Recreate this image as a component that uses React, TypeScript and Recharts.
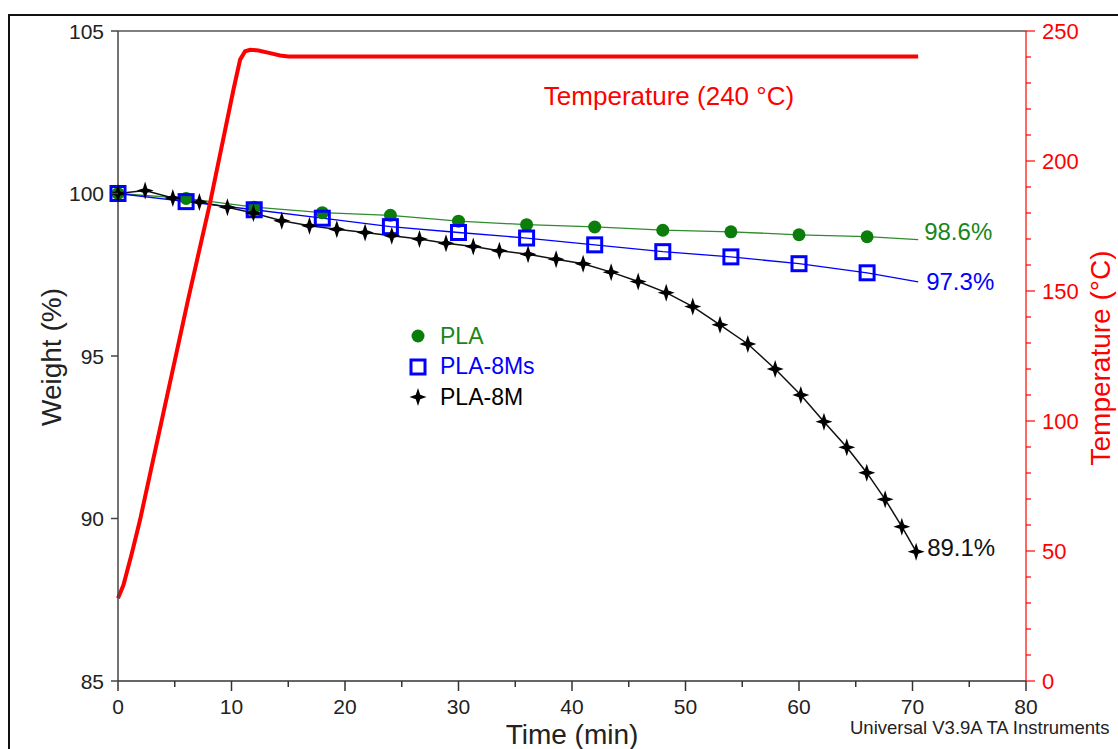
import React from "react";
import { ComposedChart, Line, XAxis, YAxis, Legend, ReferenceLine } from "recharts";

const FONT = "'Liberation Sans', Arial, sans-serif";

// ticks
const TIME_TICKS = [0, 5, 10, 15, 20, 25, 30, 35, 40, 45, 50, 55, 60, 65, 70, 75, 80];
const WEIGHT_TICKS = [85, 90, 95, 100, 105];
const TEMP_TICKS = [
  0, 10, 20, 30, 40, 50, 60, 70, 80, 90, 100, 110, 120, 130, 140, 150, 160, 170, 180, 190,
  200, 210, 220, 230, 240, 250,
];

const SERIES_NAMES = ["PLA", "PLA-8Ms", "PLA-8M"];

// PLA
const plaTime = [0, 6, 12, 18, 24, 30, 36, 42, 48, 54, 60, 66, 70.5];
const plaWeight = [100, 99.85, 99.58, 99.41, 99.33, 99.15, 99.04, 98.97, 98.87, 98.82, 98.73, 98.67, 98.58];

// PLA-8Ms
const pla8MsTime = [0, 6, 12, 18, 24, 30, 36, 42, 48, 54, 60, 66, 70.5];
const pla8MsWeight = [100, 99.75, 99.5, 99.24, 98.98, 98.8, 98.63, 98.42, 98.21, 98.05, 97.84, 97.56, 97.28];

// PLA-8M
const pla8MTime = [
  0, 2.39, 4.83, 7.17, 9.64, 11.93, 14.43, 16.87, 19.28, 21.77, 24.12, 26.56, 28.9, 31.3, 33.6,
  36.13, 38.6, 40.98, 43.45, 45.83, 48.3, 50.64, 53.04, 55.49, 57.9, 60.16, 62.2, 64.21, 65.97,
  67.59, 69.06, 70.32,
];
const pla8MWeight = [
  100, 100.09, 99.86, 99.74, 99.58, 99.4, 99.16, 99.01, 98.9, 98.8, 98.7, 98.6, 98.47, 98.37,
  98.24, 98.13, 97.98, 97.84, 97.58, 97.29, 96.95, 96.52, 95.96, 95.37, 94.6, 93.8, 92.98, 92.19,
  91.41, 90.59, 89.75, 88.98,
];

// temperature
const tempTime = [0, 0.48, 1.22, 1.94, 6.17, 8.11, 10.17, 10.76, 11.2, 11.64, 12.37, 13.4, 14.28, 15, 70.5];
const tempValue = [31.8, 36.9, 49.1, 61.9, 146.6, 183.9, 227.4, 239, 242.2, 242.8, 242.5, 241.5, 240.6, 240.2, 240.2];

const rows = (t: number[], v: number[]) => t.map((x, i) => ({ t: x, v: v[i] }));

const plaData = rows(plaTime, plaWeight);
const pla8MsData = rows(pla8MsTime, pla8MsWeight);
const pla8MData = rows(pla8MTime, pla8MWeight);
const tempData = rows(tempTime, tempValue);

const GREEN = "#0a7d0a";
const BLUE = "#0000ff";
const RED = "#ff0000";
const TEXT_COLORS: Record<string, string> = { PLA: "#1a861a", "PLA-8Ms": BLUE, "PLA-8M": "#000" };

const Circle = ({ cx, cy }: any) => <circle cx={cx} cy={cy} r={6.5} fill={GREEN} />;
const Square = ({ cx, cy }: any) => (
  <rect x={cx - 7} y={cy - 7} width={14} height={14} fill="none" stroke={BLUE} strokeWidth={3} />
);
const Star = ({ cx, cy }: any) => (
  <path
    d={`M${cx},${cy - 9} L${cx + 2.2},${cy - 2.2} L${cx + 8.5},${cy} L${cx + 2.2},${cy + 2.2} L${cx},${cy + 9} L${cx - 2.2},${cy + 2.2} L${cx - 8.5},${cy} L${cx - 2.2},${cy - 2.2} Z`}
    fill="#000"
  />
);

const TimeTick = ({ x, y, payload }: any) => {
  const major = payload.value % 10 === 0;
  return (
    <g>
      <line x1={x} y1={y} x2={x} y2={y + (major ? 10 : 6)} stroke="#333" strokeWidth={1.5} />
      {major && (
        <text x={x} y={y + 33} textAnchor="middle" fontSize={21} fontFamily={FONT} fill="#222">
          {payload.value}
        </text>
      )}
    </g>
  );
};

const WeightTick = ({ x, y, payload }: any) => (
  <g>
    <line x1={x - 7} y1={y} x2={x} y2={y} stroke="#444" strokeWidth={1.5} />
    <text x={x - 14} y={y + 7.5} textAnchor="end" fontSize={21} fontFamily={FONT} fill="#222">
      {payload.value}
    </text>
  </g>
);

const TempTick = ({ x, y, payload }: any) => {
  const major = payload.value % 50 === 0;
  return (
    <g>
      <line x1={x} y1={y} x2={x + (major ? 9 : 5)} y2={y} stroke={RED} strokeWidth={1.2} />
      {major && (
        <text x={x + 16} y={y + 8} textAnchor="start" fontSize={22} fontFamily={FONT} fill={RED}>
          {payload.value}
        </text>
      )}
    </g>
  );
};

const endLabel = (text: string, color: string, total: number, dx: number, dy: number) => (p: any) => {
  if (p.index !== total - 1) return null;
  return (
    <text x={p.x + dx} y={p.y + dy} fontSize={24} fontFamily={FONT} fill={color} dominantBaseline="central">
      {text}
    </text>
  );
};

const markerFor = (name: string) => {
  if (name === "PLA") return <Circle cx={10} cy={10} />;
  if (name === "PLA-8Ms") return <Square cx={10} cy={10} />;
  return <Star cx={10} cy={10} />;
};

const renderLegend = () => (
  <div style={{ fontFamily: FONT, fontSize: 23 }}>
    {SERIES_NAMES.map((name) => (
      <div key={name} style={{ display: "flex", alignItems: "center", height: 30.5 }}>
        <svg width={20} height={20} style={{ marginRight: 12 }}>
          {markerFor(name)}
        </svg>
        <span style={{ color: TEXT_COLORS[name] }}>{name}</span>
      </div>
    ))}
  </div>
);

export default function App() {
  return (
    <div style={{ position: "fixed", left: 0, top: 0, width: 1118, height: 749, overflow: "hidden", background: "#fff" }}>
      <div style={{ position: "absolute", left: 8, top: 14, width: 1200, height: 800, border: "2px solid #111" }} />
      <div style={{ position: "absolute", left: 0, top: 0 }}>
        <ComposedChart width={1118} height={749} margin={{ top: 31, right: 12, bottom: 28, left: 18 }}>
          <XAxis
            dataKey="t"
            type="number"
            domain={[0, 80]}
            ticks={TIME_TICKS}
            interval={0}
            height={40}
            tickSize={0}
            tickMargin={0}
            stroke="#333"
            strokeWidth={1.5}
            tick={<TimeTick />}
          />
          <YAxis
            yAxisId="w"
            type="number"
            domain={[85, 105]}
            ticks={WEIGHT_TICKS}
            interval={0}
            width={100}
            tickSize={0}
            tickMargin={0}
            stroke="#444"
            strokeWidth={1.5}
            tick={<WeightTick />}
          />
          <YAxis
            yAxisId="T"
            orientation="right"
            type="number"
            domain={[0, 250]}
            ticks={TEMP_TICKS}
            interval={0}
            width={80}
            tickSize={0}
            tickMargin={0}
            stroke={RED}
            strokeWidth={1.2}
            tick={<TempTick />}
          />
          <ReferenceLine yAxisId="w" y={105} stroke="#555" strokeWidth={1.5} />
          <Legend
            layout="vertical"
            align="center"
            verticalAlign="middle"
            content={renderLegend}
            wrapperStyle={{ position: "absolute", left: 408, top: 321, width: 200, height: 95 }}
          />
          <Line
            yAxisId="w"
            name="PLA"
            data={plaData}
            dataKey="v"
            stroke="#2e8b2e"
            strokeWidth={1.3}
            isAnimationActive={false}
            dot={(p: any) =>
              p.index < plaData.length - 1 ? <Circle key={p.index} cx={p.cx} cy={p.cy} /> : <g key={p.index} />
            }
            label={endLabel("98.6%", "#1a861a", plaData.length, 6, -8)}
          />
          <Line
            yAxisId="w"
            name="PLA-8Ms"
            data={pla8MsData}
            dataKey="v"
            stroke={BLUE}
            strokeWidth={1.3}
            isAnimationActive={false}
            dot={(p: any) =>
              p.index < pla8MsData.length - 1 ? <Square key={p.index} cx={p.cx} cy={p.cy} /> : <g key={p.index} />
            }
            label={endLabel("97.3%", BLUE, pla8MsData.length, 8, 0)}
          />
          <Line
            yAxisId="w"
            name="PLA-8M"
            data={pla8MData}
            dataKey="v"
            stroke="#111"
            strokeWidth={1.5}
            isAnimationActive={false}
            dot={(p: any) => <Star key={p.index} cx={p.cx} cy={p.cy} />}
            label={endLabel("89.1%", "#111", pla8MData.length, 11, -4)}
          />
          <Line
            yAxisId="T"
            name="Temperature"
            legendType="none"
            data={tempData}
            dataKey="v"
            stroke={RED}
            strokeWidth={4}
            dot={false}
            isAnimationActive={false}
          />
        </ComposedChart>
      </div>
      <svg
        width={1118}
        height={749}
        style={{ position: "absolute", left: 0, top: 0, pointerEvents: "none" }}
        fontFamily={FONT}
      >
        <text x={669} y={105} textAnchor="middle" fontSize={26} fill={RED}>
          Temperature (240 °C)
        </text>
        <text x={61} y={357} textAnchor="middle" fontSize={28} fill="#222" transform="rotate(-90 61 357)">
          Weight (%)
        </text>
        <text x={1110} y={358} textAnchor="middle" fontSize={28} fill={RED} transform="rotate(-90 1110 358)">
          Temperature (°C)
        </text>
        <text x={572} y={744} textAnchor="middle" fontSize={28} fill="#222">
          Time (min)
        </text>
        <text x={850} y={734} textAnchor="start" fontSize={18.5} fill="#222">
          Universal V3.9A TA Instruments
        </text>
      </svg>
    </div>
  );
}
